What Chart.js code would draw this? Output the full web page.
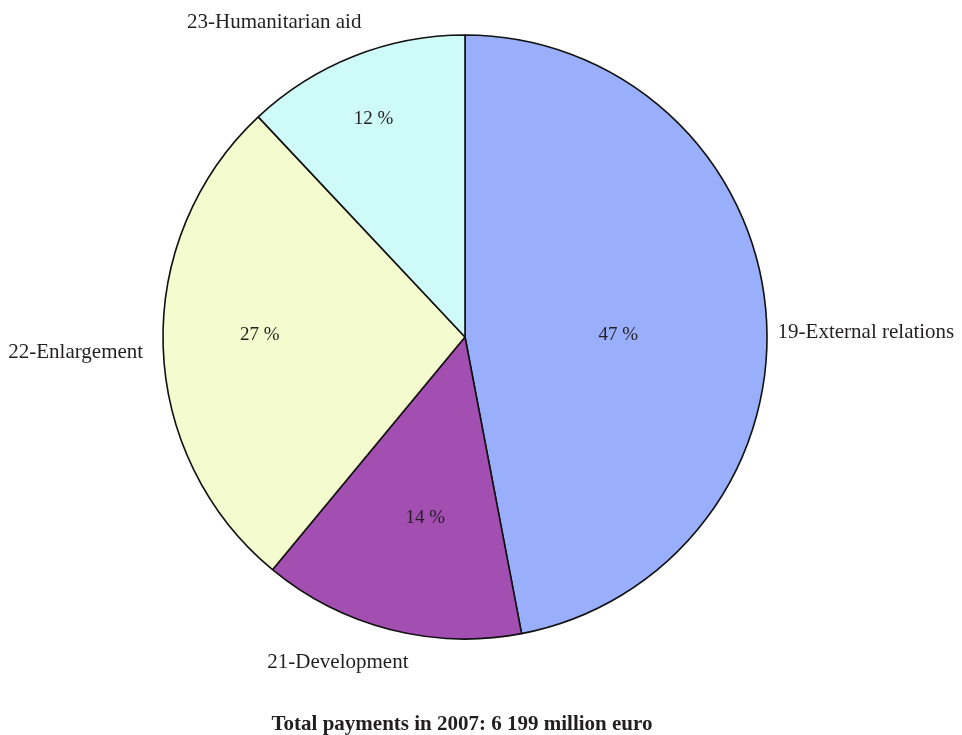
<!DOCTYPE html>
<html>
<head>
<meta charset="utf-8">
<title>Total payments in 2007</title>
<script src="https://cdn.jsdelivr.net/npm/chart.js@4/dist/chart.umd.min.js"></script>
<style>
    html, body { margin: 0; padding: 0; background: #fff; }
    #wrap { position: relative; width: 962px; height: 735px; }
</style>
</head>
<body>
<div id="wrap"><canvas id="payments-chart"></canvas></div>
<script>
// Payments by budget title, 2007 (% of total)
const categories = ['19-External relations', '21-Development', '22-Enlargement', '23-Humanitarian aid'];
const shares = [47, 14, 27, 12];
const sliceColors = ['#9aaffc', '#a34fb2', '#f4fccf', '#cefaf7'];
const totalTitle = 'Total payments in 2007: 6 199 million euro';

const textColor = '#231f20';
const labelFont = '"Liberation Serif", "Times New Roman", serif';

// Percent labels inside the slices and category names around the pie
const pieLabels = {
    id: 'pieLabels',
    afterDatasetsDraw(chart, args, opts) {
        const ctx = chart.ctx;
        const arcs = chart.getDatasetMeta(0).data;
        ctx.save();
        ctx.fillStyle = textColor;
        ctx.textBaseline = 'middle';
        arcs.forEach((arc, i) => {
            const { x, y, startAngle, endAngle, outerRadius } = arc.getProps(['x', 'y', 'startAngle', 'endAngle', 'outerRadius']);
            const mid = (startAngle + endAngle) / 2;
            const cos = Math.cos(mid), sin = Math.sin(mid);

            // value inside
            const r = outerRadius * opts.innerRadius[i];
            const [ix, iy] = opts.innerNudge[i];
            ctx.font = `19px ${labelFont}`;
            ctx.textAlign = 'center';
            ctx.fillText(`${shares[i]} %`, x + cos * r + ix, y + sin * r + iy);

            // category outside
            const ro = outerRadius + opts.gap;
            const [dx, dy] = opts.nudge[i];
            ctx.font = `21px ${labelFont}`;
            ctx.textAlign = cos > 0.3 ? 'left' : (cos < -0.3 ? 'right' : 'center');
            ctx.fillText(categories[i], x + cos * ro + dx, y + sin * ro + dy);
        });

        // total underneath
        ctx.font = `bold 21px ${labelFont}`;
        ctx.textAlign = 'center';
        ctx.textBaseline = 'alphabetic';
        ctx.fillText(totalTitle, chart.width / 2 - 19, opts.titleY);
        ctx.restore();
    }
};

new Chart(document.getElementById('payments-chart'), {
    type: 'pie',
    data: {
        labels: categories,
        datasets: [{
            data: shares,
            backgroundColor: sliceColors,
            borderColor: '#111',
            borderWidth: 1.6
        }]
    },
    options: {
        responsive: true,
        maintainAspectRatio: false,
        animation: false,
        radius: 302,
        layout: {
            padding: { left: 0, right: 32, top: 0, bottom: 61 }
        },
        plugins: {
            legend: { display: false },
            tooltip: { enabled: false },
            pieLabels: {
                innerRadius: [0.51, 0.61, 0.68, 0.795],
                innerNudge: [[0, 13], [6, 3], [0, -8], [-3, 5]],
                gap: 12,
                nudge: [[0, 25], [-49, 21], [-8, 6], [12, -23]],
                titleY: 730
            }
        }
    },
    plugins: [pieLabels]
});
</script>
</body>
</html>
